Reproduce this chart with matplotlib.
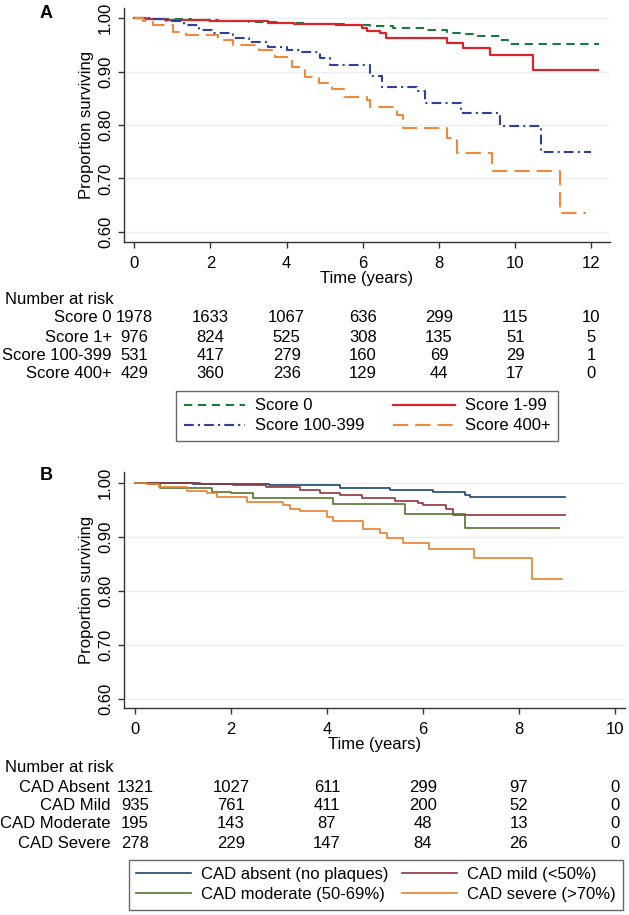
import matplotlib
matplotlib.use("Agg")
import matplotlib.pyplot as plt
import matplotlib.transforms as mtrans

plt.rcParams["font.family"] = ["Liberation Sans", "DejaVu Sans"]
plt.rcParams["font.size"] = 12
plt.rcParams["lines.scale_dashes"] = False

# ---- panel A: coronary calcium score ----
s0_t = [0, 0.3, 0.8, 1.5, 2.2, 3.0, 3.8, 4.6, 5.5, 6.2, 6.8, 7.6, 8.2, 8.6, 8.9, 9.6, 9.8, 12.2]
s0_s = [1.0, 0.999, 0.998, 0.996, 0.995, 0.993, 0.991, 0.989, 0.988, 0.986, 0.981, 0.979,
        0.972, 0.970, 0.967, 0.959, 0.951, 0.951]
s1_t = [0, 0.3, 0.8, 1.4, 2.0, 2.8, 3.5, 4.2, 5.3, 5.97, 6.1, 6.45, 6.62, 8.2, 8.64, 9.34, 10.47, 12.18]
s1_s = [1.0, 0.999, 0.997, 0.996, 0.995, 0.994, 0.992, 0.989, 0.987, 0.981, 0.977, 0.973,
        0.9625, 0.954, 0.944, 0.931, 0.904, 0.904]
s100_t = [0, 0.4, 0.85, 1.3, 1.7, 2.04, 2.6, 3.0, 3.5, 4.0, 4.35, 4.87, 5.13, 6.19, 6.5, 7.41,
          7.63, 8.59, 9.6, 10.69, 12.0]
s100_s = [1.0, 0.998, 0.994, 0.987, 0.978, 0.972, 0.9625, 0.955, 0.947, 0.940, 0.937, 0.925,
          0.912, 0.891, 0.872, 0.863, 0.841, 0.822, 0.798, 0.750, 0.750]
s400_t = [0, 0.24, 0.5, 1.02, 1.37, 2.2, 2.6, 3.27, 3.7, 4.14, 4.49, 4.84, 5.2, 5.5, 6.1, 6.2,
          6.9, 7.06, 8.2, 8.46, 9.38, 11.17, 11.87]
s400_s = [1.0, 0.994, 0.987, 0.975, 0.969, 0.959, 0.950, 0.940, 0.928, 0.909, 0.890, 0.878,
          0.868, 0.853, 0.847, 0.834, 0.818, 0.795, 0.775, 0.748, 0.714, 0.636, 0.636]

a_risk_times = [0, 2, 4, 6, 8, 10, 12]
a_risk_labels = ["Score 0", "Score 1+", "Score 100-399", "Score 400+"]
a_risk_score0 = [1978, 1633, 1067, 636, 299, 115, 10]
a_risk_score1 = [976, 824, 525, 308, 135, 51, 5]
a_risk_score100 = [531, 417, 279, 160, 69, 29, 1]
a_risk_score400 = [429, 360, 236, 129, 44, 17, 0]
a_legend = ["Score 0", "Score 1-99", "Score 100-399", "Score 400+"]

# ---- panel B: CAD severity ----
abs_t = [0, 0.5, 1.2, 2.0, 2.8, 3.85, 4.27, 5.31, 6.2, 6.87, 6.98, 8.96]
abs_s = [1.0, 0.999, 0.998, 0.997, 0.996, 0.9957, 0.9907, 0.987, 0.983, 0.978, 0.9735, 0.9735]
mild_t = [0, 0.4, 1.35, 2.05, 2.74, 3.44, 3.85, 4.27, 4.72, 5.41, 5.9, 6.0, 6.49, 6.63, 8.96]
mild_s = [1.0, 0.999, 0.9975, 0.995, 0.9926, 0.986, 0.980, 0.9765, 0.971, 0.967, 0.963,
          0.9586, 0.952, 0.941, 0.941]
mod_t = [0, 0.26, 0.53, 1.6, 2.0, 2.46, 4.13, 5.62, 6.87, 8.84]
mod_s = [1.0, 0.9975, 0.9895, 0.983, 0.980, 0.971, 0.960, 0.942, 0.917, 0.917]
sev_t = [0, 0.26, 0.5, 1.08, 1.5, 1.7, 2.33, 3.09, 3.23, 3.44, 4.0, 4.13, 4.76, 5.1, 5.26,
         5.59, 6.13, 7.06, 8.28, 8.89]
sev_s = [1.0, 0.9975, 0.9926, 0.985, 0.980, 0.974, 0.965, 0.959, 0.952, 0.948, 0.937, 0.929,
         0.914, 0.906, 0.898, 0.888, 0.877, 0.860, 0.822, 0.822]

b_risk_times = [0, 2, 4, 6, 8, 10]
b_risk_labels = ["CAD Absent", "CAD Mild", "CAD Moderate", "CAD Severe"]
b_risk_absent = [1321, 1027, 611, 299, 97, 0]
b_risk_mild = [935, 761, 411, 200, 52, 0]
b_risk_moderate = [195, 143, 87, 48, 13, 0]
b_risk_severe = [278, 229, 147, 84, 26, 0]
b_legend = ["CAD absent (no plaques)", "CAD mild (<50%)", "CAD moderate (50-69%)", "CAD severe (>70%)"]

yticks = [0.60, 0.70, 0.80, 0.90, 1.00]

W, H = 629, 915
fig = plt.figure(figsize=(W / 100, H / 100), dpi=100)


def px_axes(l, t, r, b):
    return fig.add_axes([l / W, 1 - b / H, (r - l) / W, (b - t) / H])


def style(ax):
    for sp in ("top", "right"):
        ax.spines[sp].set_visible(False)
    for sp in ("left", "bottom"):
        ax.spines[sp].set_color("#333333")
        ax.spines[sp].set_linewidth(1.0)
    ax.set_yticks(yticks)
    ax.set_yticklabels([f"{v:.2f}" for v in yticks], rotation=90, va="center")
    ax.tick_params(axis="both", direction="out", length=4, width=1, color="#333333", labelsize=12)
    ax.tick_params(axis="x", pad=6)
    ax.tick_params(axis="y", pad=4)
    ax.grid(axis="y", color="#e8f0f2", lw=1.0)
    ax.set_axisbelow(True)
    ax.set_ylabel("Proportion surviving", labelpad=3)
    ax.set_xlabel("Time (years)", labelpad=0)


# panel A
axA = px_axes(124, 8, 610, 242.3)
axA.step(s0_t, s0_s, where="post", color="#1b7a3e", lw=1.5, ls=(0, (6, 4)), label=a_legend[0])
axA.step(s1_t, s1_s, where="post", color="#d8262c", lw=1.6, ls="-", label=a_legend[1])
axA.step(s100_t, s100_s, where="post", color="#2e3f9e", lw=1.5, ls=(0, (7, 3, 1.5, 3)), label=a_legend[2])
axA.step(s400_t, s400_s, where="post", color="#f08a3a", lw=1.5, ls=(0, (11, 5)), label=a_legend[3])
axA.set_xlim(-0.27, 12.49)
axA.set_ylim(0.5802, 1.0193)
axA.set_xticks(a_risk_times)
style(axA)

# panel B
axB = px_axes(124, 472, 625, 708)
axB.step(abs_t, abs_s, where="post", color="#1a476f", lw=1.2, label=b_legend[0])
axB.step(mild_t, mild_s, where="post", color="#90353b", lw=1.2, label=b_legend[1])
axB.step(mod_t, mod_s, where="post", color="#55752f", lw=1.2, label=b_legend[2])
axB.step(sev_t, sev_s, where="post", color="#e8802f", lw=1.2, label=b_legend[3])
axB.set_xlim(-0.229, 10.21)
axB.set_ylim(0.5828, 1.0198)
axB.set_xticks(b_risk_times)
style(axB)

fig.text(46 / W, 1 - 14 / H, "A", fontsize=13, fontweight="bold", ha="center", va="center")
fig.text(46 / W, 1 - 475 / H, "B", fontsize=13, fontweight="bold", ha="center", va="center")


def risk_table(ax, times, labels, rows, title_y, row_ys, label_x):
    tr = mtrans.blended_transform_factory(ax.transData, fig.transFigure)
    fig.text(5 / W, 1 - title_y / H, "Number at risk", ha="left", va="center", fontsize=12)
    for lab, row, y in zip(labels, rows, row_ys):
        fig.text(label_x / W, 1 - y / H, lab, ha="right", va="center", fontsize=12)
        for t, n in zip(times, row):
            ax.text(t, 1 - y / H, str(n), transform=tr, ha="center", va="center", fontsize=12)


risk_table(axA, a_risk_times, a_risk_labels,
           [a_risk_score0, a_risk_score1, a_risk_score100, a_risk_score400],
           299, [318, 337, 355, 373], 112)
risk_table(axB, b_risk_times, b_risk_labels,
           [b_risk_absent, b_risk_mild, b_risk_moderate, b_risk_severe],
           768, [787, 806, 824, 843], 110)


def row_legend(ax, center, hl, cs):
    h, l = ax.get_legend_handles_labels()
    order = [0, 2, 1, 3]  # fill row-wise like the original
    leg = fig.legend([h[i] for i in order], [l[i] for i in order], loc="center", ncol=2,
                     bbox_to_anchor=(center[0] / W, 1 - center[1] / H), fontsize=12,
                     frameon=True, fancybox=False, handlelength=hl, handletextpad=0.6,
                     columnspacing=cs, labelspacing=0.3, borderpad=0.45)
    leg.get_frame().set_edgecolor("#444444")
    leg.get_frame().set_linewidth(1.0)
    return leg


row_legend(axA, (367, 416), 3.7, 1.7)
row_legend(axB, (376, 884.5), 3.3, 0.8)

fig.savefig("out.png", dpi=100, facecolor="white")
